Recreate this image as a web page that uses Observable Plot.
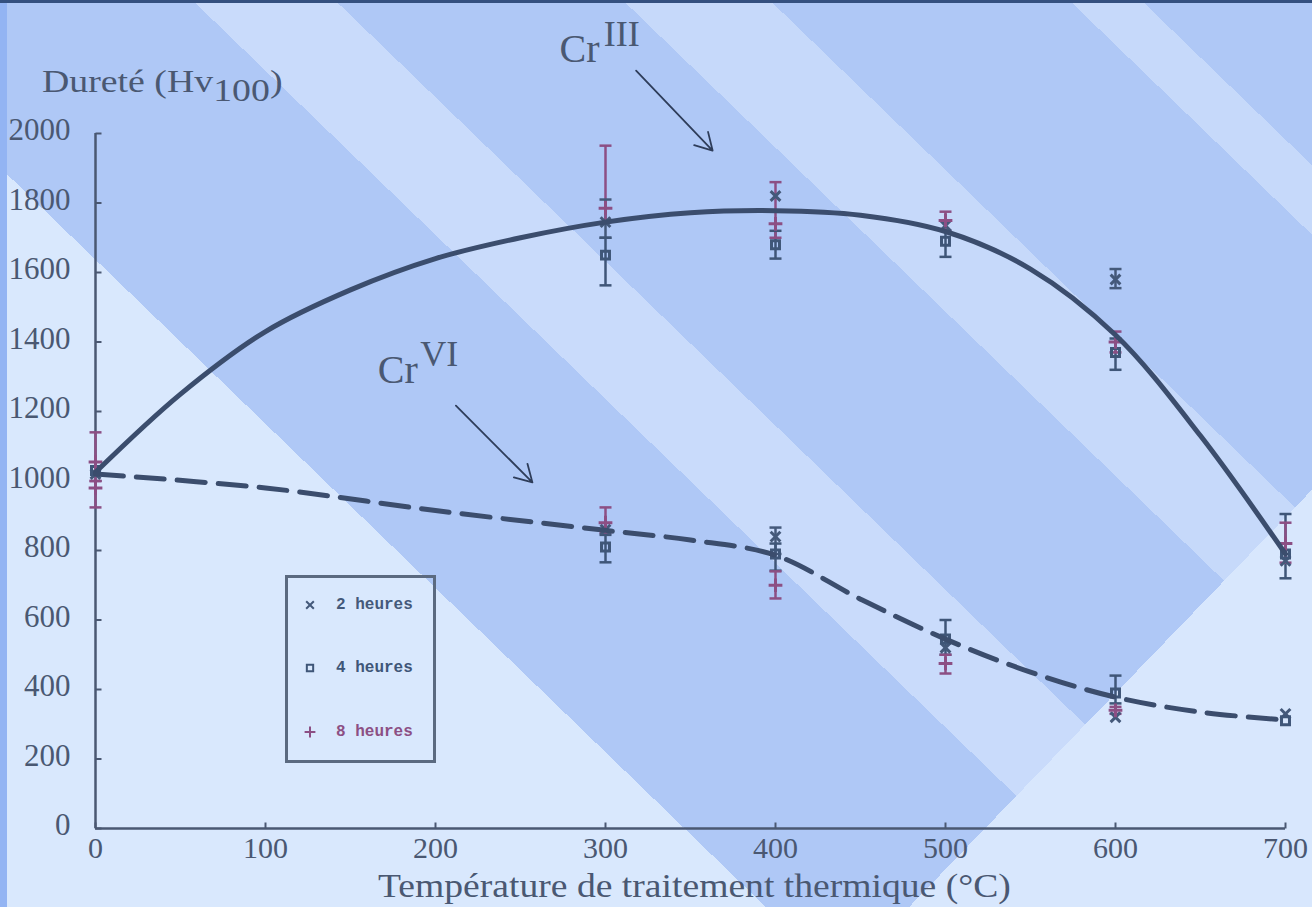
<!DOCTYPE html>
<html>
<head>
<meta charset="utf-8">
<script src="https://cdn.jsdelivr.net/npm/d3@7"></script>
<script src="https://cdn.jsdelivr.net/npm/@observablehq/plot@0.6"></script>
<style>
  html, body { margin: 0; padding: 0; }
  #wrap {
    position: relative; width: 1312px; height: 907px; overflow: hidden;
    background:
      linear-gradient(134deg, rgba(0,0,0,0) 0px, rgba(0,0,0,0) 1284px, #d8e7fd 1284px, #d8e7fd 1573px),
      linear-gradient(44deg,
        #d9e8fd 0px, #d9e8fd 532px,
        #afc8f6 532px, #afc8f6 786px,
        #c9dbfb 786px, #c9dbfb 885px,
        #afc8f6 885px, #afc8f6 1085px,
        #c6d9fa 1085px, #c6d9fa 1187px,
        #afc8f6 1187px, #afc8f6 1395px,
        #c6d9fa 1395px, #c6d9fa 1445px,
        #afc8f6 1445px, #afc8f6 1564px);
  }
  #leftstrip { position: absolute; left: 0; top: 0; width: 7px; height: 907px; background: #93b4f3; }
  #topline { position: absolute; left: 0; top: 0; width: 1312px; height: 3px; background: #34507f; }
  #chart { position: absolute; left: 0; top: 0; }
  .ttl { position: absolute; font-family: "Liberation Serif", serif; color: #4a5872; white-space: nowrap; line-height: 1; transform-origin: 0 0; }
  #ytitle { left: 42px; top: 66px; font-size: 31px; transform: scaleX(1.22); }
  #ytitle sub { font-size: 31px; vertical-align: -9px; line-height: 0; }
  #xtitle { left: 378px; top: 870px; font-size: 33px; transform: scaleX(1.14); }
  #legend { position: absolute; left: 285px; top: 575px; width: 145px; height: 182px; border: 3px solid #5b6a80; }
  .li { position: absolute; left: 14px; font-family: "Liberation Mono", monospace; font-size: 16px; font-weight: bold; display: flex; align-items: center; gap: 18px; }
</style>
</head>
<body>
<div id="wrap">
  <div id="leftstrip"></div>
  <div id="topline"></div>
  <div id="chart"></div>
  <div id="ytitle" class="ttl">Dureté (Hv<sub>100</sub>)</div>
  <div id="xtitle" class="ttl">Température de traitement thermique (°C)</div>
  <div id="legend"></div>
</div>
<script>
// ---- data ----
const xTicks = [0, 100, 200, 300, 400, 500, 600, 700];
const yTicks = [0, 200, 400, 600, 800, 1000, 1200, 1400, 1600, 1800, 2000];
const durations = ["2 heures", "4 heures", "8 heures"];
const durColors = ["#44597a", "#3f5678", "#8c4f84"];
const durSymbols = ["times", "square", "plus"];

// Cr III fitted curve (solid)
const cr3T = [0, 50, 100, 150, 200, 250, 300, 350, 400, 450, 500, 550, 600, 650, 700];
const cr3H = [1025, 1250, 1430, 1550, 1640, 1700, 1745, 1772, 1778, 1765, 1718, 1610, 1420, 1130, 790];
// Cr VI fitted curve (dashed)
const cr6T = [0, 100, 200, 300, 350, 400, 450, 500, 550, 600, 650, 700];
const cr6H = [1020, 980, 915, 858, 830, 786, 660, 545, 450, 378, 335, 312];

// measured points with error bars
const mSeries = ["III","III","III","III","III","III","III","III","III","III","III","III","III","III","III","III","III","III",
                 "VI","VI","VI","VI","VI","VI","VI","VI","VI","VI","VI","VI","VI","VI","VI"];
const mTemp = [0,0,0, 300,300,300, 400,400,400, 500,500,500, 600,600,600, 700,700,700,
               0, 300,300,300, 400,400,400, 500,500,500, 600,600,600, 700,700];
const mDur  = [0,1,2, 0,1,2, 0,1,2, 0,1,2, 0,1,2, 0,1,2,
               2, 0,1,2, 0,1,2, 0,1,2, 0,1,2, 0,1];
const mVal  = [1020,1030,1055, 1745,1650,1785, 1820,1680,1740, 1735,1690,1750, 1580,1370,1400, 770,790,820,
               980, 860,810,880, 840,790,700, 520,545,475, 320,390,340, 330,310];
const mLo   = [null,null,1000, 1700,1563,1745, null,1640,1700, null,1645,1720, 1555,1320,1370, null,720,765,
               924, null,766,850, 790,742,662, null,500,446, null,360,330, null,null];
const mHi   = [null,null,1140, 1810,1700,1965, null,1720,1860, null,1720,1775, 1610,1410,1430, null,905,880,
               1000, null,845,924, 866,820,740, null,600,500, null,440,350, null,null];

// annotations
const annoBase = ["Cr", "Cr"];
const annoSup = ["III", "VI"];
const annoX = [273, 166];
const annoY = [2242, 1318];
const supX = [299, 191];
const supY = [2285, 1365];
const arrX1 = [318, 212], arrY1 = [2181, 1217];
const arrX2 = [363, 257], arrY2 = [1951, 996];

// ---- build tables ----
const cr3 = cr3T.map((t, i) => ({t, h: cr3H[i]}));
const cr6 = cr6T.map((t, i) => ({t, h: cr6H[i]}));
const meas = mTemp.map((t, i) => ({s: mSeries[i], t, dur: durations[mDur[i]], v: mVal[i], lo: mLo[i], hi: mHi[i]}));
const bars = meas.filter(d => d.lo != null);
const annos = annoBase.map((b, i) => ({b, sup: annoSup[i], x: annoX[i], y: annoY[i], sx: supX[i], sy: supY[i],
  x1: arrX1[i], y1: arrY1[i], x2: arrX2[i], y2: arrY2[i]}));

const axisColor = "#4a5872";
const lineColor = "#3b4d6d";
const capSym = {draw(ctx) { ctx.moveTo(-6, 0); ctx.lineTo(6, 0); }};
const yTickSym = {draw(ctx) { ctx.moveTo(0, 0); ctx.lineTo(6, 0); }};
const xTickSym = {draw(ctx) { ctx.moveTo(0, 0); ctx.lineTo(0, -6); }};

const chart = Plot.plot({
  width: 1312, height: 907,
  marginLeft: 95, marginRight: 27, marginTop: 133, marginBottom: 79,
  style: {background: "transparent", fontFamily: "Liberation Serif, serif", color: axisColor, overflow: "visible"},
  x: {domain: [0, 700]},
  y: {domain: [0, 2000]},
  color: {domain: durations, range: durColors},
  symbol: {domain: durations, range: durSymbols},
  marks: [
    Plot.axisY({ticks: yTicks, tickSize: 0, tickPadding: 25, fontSize: 31, dy: -3, tickFormat: d => `${d}`, label: null}),
    Plot.axisX({ticks: xTicks, tickSize: 0, tickPadding: 8, fontSize: 30, tickFormat: d => `${d}`, label: null}),
    Plot.ruleY([0], {stroke: axisColor, strokeWidth: 2.5}),
    Plot.ruleX([0], {stroke: axisColor, strokeWidth: 2.5}),
    Plot.dot(yTicks, {x: 0, y: d => d, symbol: yTickSym, stroke: axisColor, strokeWidth: 2}),
    Plot.dot(xTicks, {x: d => d, y: 0, symbol: xTickSym, stroke: axisColor, strokeWidth: 2}),
    // error bars
    Plot.ruleX(bars, {x: "t", y1: "lo", y2: "hi", stroke: "dur", strokeWidth: 2.5}),
    Plot.dot(bars, {x: "t", y: "lo", symbol: capSym, stroke: "dur", strokeWidth: 2.5}),
    Plot.dot(bars, {x: "t", y: "hi", symbol: capSym, stroke: "dur", strokeWidth: 2.5}),
    Plot.dot(meas, {x: "t", y: "v", symbol: "dur", stroke: "dur", r: 4.5, strokeWidth: 3}),
    // curves
    Plot.line(cr3, {x: "t", y: "h", curve: "catmull-rom", stroke: lineColor, strokeWidth: 5}),
    Plot.line(cr6, {x: "t", y: "h", curve: "catmull-rom", stroke: lineColor, strokeWidth: 5, strokeDasharray: "28,13"}),
    // annotations
    Plot.arrow(annos, {x1: "x1", y1: "y1", x2: "x2", y2: "y2", stroke: "#2e3d5a", strokeWidth: 1.8, headLength: 16, bend: 0}),
    Plot.text(annos, {x: "x", y: "y", text: "b", textAnchor: "start", fontSize: 40, fill: "#4a5872"}),
    Plot.text(annos, {x: "sx", y: "sy", text: "sup", textAnchor: "start", fontSize: 36, fill: "#4a5872"})
  ]
});
document.getElementById("chart").appendChild(chart);

// legend (HTML)
const leg = d3.select("#legend");
const rowTops = [18, 81, 145];
durations.forEach((d, i) => {
  const row = leg.append("div").attr("class", "li").style("top", rowTops[i] + "px").style("color", durColors[i]);
  const s = row.append("svg").attr("width", 16).attr("height", 16);
  s.append("path").attr("transform", "translate(8,8)")
    .attr("d", d3.symbol(d3["symbol" + (durSymbols[i] === "times" ? "Times" : durSymbols[i] === "square" ? "Square" : "Plus")], 40)())
    .attr("fill", "none").attr("stroke", durColors[i]).attr("stroke-width", 2);
  row.append("span").text(d);
});
</script>
</body>
</html>
